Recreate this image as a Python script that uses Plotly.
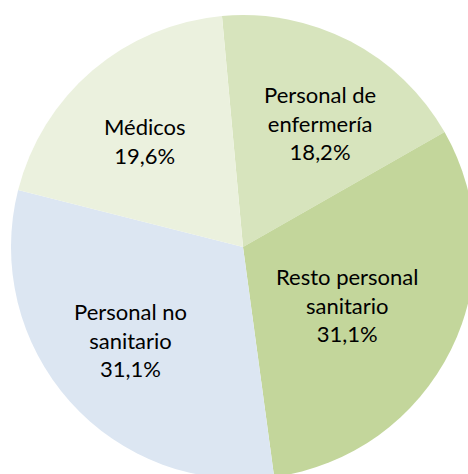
import plotly.graph_objects as go

categories = ["Personal de<br>enfermería", "Resto personal<br>sanitario", "Personal no<br>sanitario", "Médicos"]
values = [18.2, 31.1, 31.1, 19.6]
colors = ["#d7e4bd", "#c3d69b", "#dce6f2", "#ebf1de"]

W, H = 476, 480
L, T = 11, 15
S = 464  # square plot area

fig = go.Figure(go.Pie(
    labels=categories,
    values=values,
    sort=False,
    direction="clockwise",
    rotation=-5.2,
    marker=dict(colors=colors, line=dict(width=0)),
    textinfo="none",
    hoverinfo="label+percent",
    showlegend=False,
))

# label centres in pixels
label_px = [(320, 123), (347, 305), (130, 340), (145, 141)]
for cat, val, (px, py) in zip(categories, values, label_px):
    fig.add_annotation(
        x=(px - L) / S, y=1 - (py - T) / S, xref="paper", yref="paper",
        text=f"{cat}<br>{val:.1f}%".replace(".", ","),
        showarrow=False, xanchor="center", yanchor="middle",
        font=dict(family="Lato", size=22, color="#000000"),
    )

fig.update_layout(
    width=W, height=H,
    margin=dict(l=L, r=W - L - S, t=T, b=H - T - S, pad=0),
    paper_bgcolor="white",
    plot_bgcolor="white",
)

fig.write_html(
    "out.html",
    config={"displayModeBar": False},
    post_script="document.body.style.margin='0';document.body.style.overflow='hidden';"
                "document.documentElement.style.overflow='hidden';",
)
